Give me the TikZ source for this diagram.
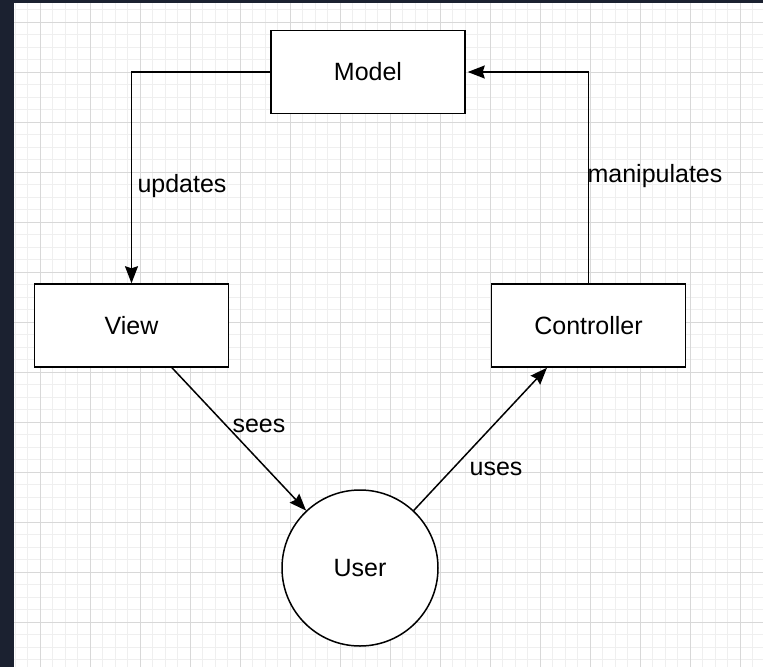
\documentclass[tikz,border=0pt]{standalone}
\usepackage{fontspec}
\setmainfont{Liberation Sans}
\usetikzlibrary{arrows.meta}

\definecolor{frame}{HTML}{1B2130}
\definecolor{gridminor}{HTML}{EFEFEF}
\definecolor{gridmajor}{HTML}{D8D8D8}

\begin{document}
\begin{tikzpicture}[x=1pt,y=-1pt,
  every node/.style={font=\fontsize{25}{29}\selectfont},
  box/.style={draw=black, line width=1.5pt, fill=white, rectangle,
    minimum width=194pt, minimum height=83pt, inner sep=0pt},
  actor/.style={draw=black, line width=1.5pt, fill=white, circle,
    minimum size=156pt, inner sep=0pt},
  link/.style={draw=black, line width=1.5pt,
    -{Stealth[length=17pt,width=13pt,inset=2pt]}},
  lbl/.style={inner sep=0pt, text=black}]

% canvas: dark frame with a white grid sheet
\fill[frame] (0,0) rectangle (763,667);
\fill[white] (14,3) rectangle (763,667);
\begin{scope}
  \clip (14,3) rectangle (763,667);
  \foreach \x in {15,27.5,...,763} \draw[gridminor, line width=0.6pt] (\x,3) -- (\x,667);
  \foreach \y in {9.5,22,...,667} \draw[gridminor, line width=0.6pt] (14,\y) -- (763,\y);
  \foreach \x in {40,90,...,740} \draw[gridmajor, line width=0.8pt] (\x,3) -- (\x,667);
  \foreach \y in {22,72,...,622} \draw[gridmajor, line width=0.8pt] (14,\y) -- (763,\y);
\end{scope}
\useasboundingbox (0,0) rectangle (763,667);

% components
\node[box] (Model) at (368,72) {Model};
\node[box] (View) at (131.5,325.5) {View};
\node[box] (Controller) at (588.5,325.5) {Controller};
\node[actor] (User) at (360,568) {User};

% connectors
\draw[link] (Model.west) -| (View.north);
\draw[link] (Controller.north) |- ([xshift=2pt]Model.east);
\draw[link] ([xshift=40.5pt]View.south) -- (User);
\draw[link] (User) -- ([xshift=-41.5pt]Controller.south);

% connector labels
\node[lbl] (lupdates) at (182,186) {updates};
\node[lbl] (lmanip) at (655,176) {manipulates};
\node[lbl] (lsees) at (259,426) {sees};
\node[lbl] (luses) at (496,469) {uses};
\end{tikzpicture}
\end{document}
